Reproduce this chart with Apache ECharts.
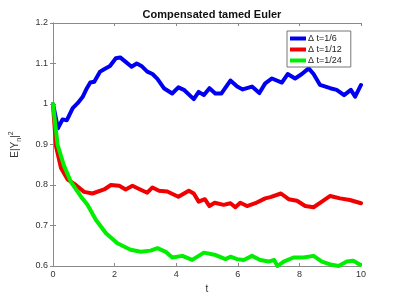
<!DOCTYPE html>
<html><head><meta charset="utf-8">
<script src="https://cdn.jsdelivr.net/npm/echarts@6/dist/echarts.min.js"></script>
<style>html,body{margin:0;padding:0;background:#fff}#c{width:399px;height:299px}</style>
</head><body><div id="c"></div>
<script>
var titleText = 'Compensated tamed Euler';
var seriesNames = ['\u0394 t=1/6', '\u0394 t=1/12', '\u0394 t=1/24'];
var xTicks = [0, 2, 4, 6, 8, 10];
var yTicks = [0.6, 0.7, 0.8, 0.9, 1, 1.1, 1.2];

var tBlue = [0,0.16,0.31,0.45,0.64,0.8,0.96,1.1,1.21,1.34,1.53,1.66,1.85,2.04,2.18,2.36,2.55,2.72,2.87,3.06,3.23,3.39,3.6,3.87,4.07,4.25,4.57,4.73,4.9,5.08,5.27,5.47,5.76,5.98,6.16,6.46,6.7,6.89,7.11,7.43,7.62,7.86,8.08,8.3,8.46,8.67,9.0,9.21,9.45,9.67,9.81,10.0];
var vBlue = [1.0,0.94,0.962,0.96,0.99,1.002,1.017,1.039,1.053,1.055,1.08,1.086,1.094,1.113,1.115,1.104,1.092,1.1,1.094,1.08,1.074,1.062,1.039,1.026,1.041,1.035,1.012,1.03,1.022,1.039,1.026,1.026,1.058,1.043,1.036,1.043,1.027,1.051,1.063,1.053,1.074,1.063,1.074,1.088,1.074,1.047,1.039,1.035,1.022,1.035,1.018,1.047];

var tRed = [0,0.1,0.26,0.47,0.74,1.01,1.28,1.66,1.88,2.15,2.36,2.58,2.83,3.06,3.23,3.44,3.71,4.07,4.41,4.57,4.73,4.93,5.08,5.25,5.54,5.76,5.92,6.08,6.3,6.57,6.89,7.06,7.4,7.65,7.92,8.19,8.46,8.73,9.0,9.32,9.64,10.0];
var vRed = [0.998,0.895,0.842,0.814,0.8,0.783,0.779,0.789,0.8,0.798,0.789,0.798,0.789,0.781,0.794,0.786,0.784,0.771,0.786,0.779,0.759,0.765,0.748,0.756,0.751,0.755,0.745,0.756,0.748,0.755,0.767,0.77,0.779,0.765,0.761,0.748,0.745,0.759,0.773,0.767,0.763,0.755];

var tGreen = [0,0.15,0.35,0.58,0.91,1.12,1.39,1.72,2.09,2.52,2.85,3.17,3.39,3.66,3.87,4.2,4.52,4.9,5.28,5.6,5.76,5.98,6.19,6.46,6.73,7.0,7.18,7.29,7.49,7.81,8.13,8.46,8.73,9.05,9.27,9.54,9.75,9.97];
var vGreen = [1.0,0.899,0.849,0.808,0.771,0.751,0.714,0.681,0.656,0.64,0.635,0.638,0.644,0.635,0.621,0.625,0.615,0.633,0.627,0.617,0.623,0.617,0.615,0.625,0.615,0.611,0.615,0.6,0.611,0.621,0.621,0.625,0.611,0.603,0.6,0.611,0.613,0.603];

function zip(a, b) { return a.map(function (t, i) { return [t, b[i]]; }); }
var colors = ['#0000f0', '#f00000', '#00ee00'];
var font = 'Arial, "Liberation Sans", sans-serif';

var chart = echarts.init(document.getElementById('c'), null, {renderer: 'canvas'});
function mkSeries(name, data, col) {
  return {name: name, type: 'line', data: data, showSymbol: false, symbol: 'none', z: 2,
    lineStyle: {color: col, width: 4, join: 'round', cap: 'round'}, itemStyle: {color: col}, animation: false};
}
var axisLineStyle = {show: true, lineStyle: {color: '#8a8a8a', width: 1}};
chart.setOption({
  animation: false,
  backgroundColor: '#ffffff',
  title: {text: titleText, left: 207, top: 4, textAlign: 'center',
    textStyle: {fontFamily: font, fontSize: 11, fontWeight: 'bold', color: '#111'}},
  legend: {orient: 'vertical', left: 287, top: 31, itemWidth: 16, itemHeight: 4, itemGap: 0,
    icon: 'rect', backgroundColor: '#fff', borderColor: '#777', borderWidth: 1, padding: [2, 9, 1, 3],
    z: 20, zlevel: 1,
    textStyle: {fontFamily: font, fontSize: 9, lineHeight: 11, color: '#222', padding: [0, 0, 0, -3]},
    data: seriesNames},
  grid: {left: 52, right: 38, top: 23, bottom: 33, show: false},
  xAxis: [{type: 'value', min: 0, max: 10, interval: 2, position: 'bottom',
    name: 't', nameLocation: 'middle', nameGap: 17,
    nameTextStyle: {fontFamily: font, fontSize: 10, color: '#333'},
    axisLine: axisLineStyle, axisTick: {show: true, inside: true, length: 3, lineStyle: {color: '#8a8a8a'}},
    axisLabel: {fontFamily: font, fontSize: 9, color: '#333', margin: 4,
      formatter: function (v) { return xTicks.indexOf(v) >= 0 ? String(v) : ''; }},
    splitLine: {show: false}},
   {type: 'value', min: 0, max: 10, interval: 2, position: 'top',
    axisLine: axisLineStyle, axisTick: {show: true, inside: true, length: 3, lineStyle: {color: '#8a8a8a'}},
    axisLabel: {show: false}, splitLine: {show: false}}],
  yAxis: [{type: 'value', min: 0.6, max: 1.2, interval: 0.1, position: 'left',
    name: '{a|E|Y}{s|n}{a||}{p|2}', nameLocation: 'middle', nameGap: 30,
    nameTextStyle: {fontFamily: font, fontSize: 10, color: '#333',
      rich: {a: {fontFamily: font, fontSize: 10, color: '#333'},
             s: {fontFamily: font, fontSize: 7, color: '#333', verticalAlign: 'bottom', padding: [6, 0, 0, 0]},
             p: {fontFamily: font, fontSize: 7, color: '#333', verticalAlign: 'top', padding: [0, 0, 8, 0]}}},
    axisLine: axisLineStyle, axisTick: {show: true, inside: true, length: 3, lineStyle: {color: '#8a8a8a'}},
    axisLabel: {fontFamily: font, fontSize: 9, color: '#333', margin: 5,
      formatter: function (v) { var r = Math.round(v * 10) / 10; return yTicks.indexOf(r) >= 0 ? String(r) : ''; }},
    splitLine: {show: false}},
   {type: 'value', min: 0.6, max: 1.2, interval: 0.1, position: 'right',
    axisLine: axisLineStyle, axisTick: {show: true, inside: true, length: 3, lineStyle: {color: '#8a8a8a'}},
    axisLabel: {show: false}, splitLine: {show: false}}],
  series: [
    mkSeries(seriesNames[0], zip(tBlue, vBlue), colors[0]),
    mkSeries(seriesNames[1], zip(tRed, vRed), colors[1]),
    mkSeries(seriesNames[2], zip(tGreen, vGreen), colors[2])
  ]
});
</script></body></html>
